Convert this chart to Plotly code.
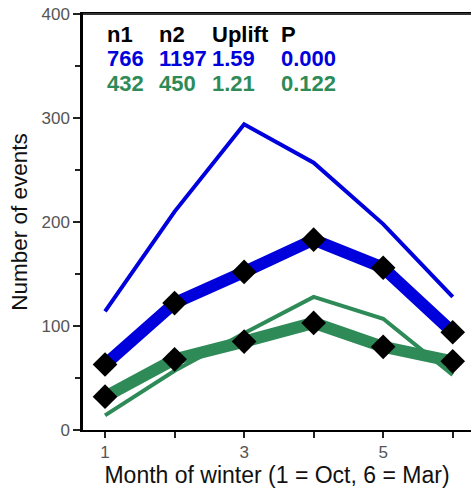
import plotly.graph_objects as go

months = [1, 2, 3, 4, 5, 6]
blue_thin = [114, 210, 294, 257, 198, 128]
blue_thick = [63, 122, 152, 183, 156, 94]
green_thin = [14, 57, 93, 128, 107, 53]
green_thick = [32, 68, 85, 103, 80, 66]

header = ["n1", "n2", "Uplift", "P"]
blue_stats = ["766", "1197", "1.59", "0.000"]
green_stats = ["432", "450", "1.21", "0.122"]

BLUE = "#0000DD"
GREEN = "#2E8B57"
FONT = "Liberation Sans, Arial, sans-serif"

fig = go.Figure()
fig.add_trace(go.Scatter(x=months, y=blue_thin, mode="lines",
                         line=dict(color=BLUE, width=4)))
fig.add_trace(go.Scatter(x=months, y=green_thin, mode="lines",
                         line=dict(color=GREEN, width=4)))
fig.add_trace(go.Scatter(x=months, y=blue_thick, mode="lines+markers",
                         line=dict(color=BLUE, width=12),
                         marker=dict(symbol="diamond", size=19, color="black")))
fig.add_trace(go.Scatter(x=months, y=green_thick, mode="lines+markers",
                         line=dict(color=GREEN, width=12),
                         marker=dict(symbol="diamond", size=19, color="black")))

col_x = [1.0, 1.748, 2.51, 3.50]
rows = [(header, "black", 380), (blue_stats, BLUE, 357), (green_stats, GREEN, 333)]
for texts, color, yv in rows:
    for t, xv in zip(texts, col_x):
        fig.add_annotation(x=xv, y=yv, xref="x", yref="y", text="<b>%s</b>" % t,
                           showarrow=False, xanchor="left", yanchor="middle",
                           font=dict(family=FONT, size=22, color=color))

# top frame line of the plot box
fig.add_shape(type="line", xref="paper", yref="paper", x0=0, x1=1, y0=1, y1=1,
              line=dict(color="#333", width=2), layer="above")

fig.update_layout(
    width=471, height=489,
    margin=dict(l=83, r=0, t=14, b=59),
    plot_bgcolor="white", paper_bgcolor="white",
    showlegend=False,
    font=dict(family=FONT, color="#444"),
)
fig.update_xaxes(
    automargin=False,
    range=[0.683, 6.263], tickvals=[1, 3, 5], ticktext=["1", "3", "5"],
    ticks="outside", ticklen=6, tickwidth=2, tickcolor="#222",
    minor=dict(tick0=1, dtick=1, ticks="outside", ticklen=6, tickwidth=2, tickcolor="#222", showgrid=False),
    showline=True, linecolor="black", linewidth=2, mirror=True,
    showgrid=False, zeroline=False,
    tickfont=dict(size=17, color="#555"),
    title=dict(text="Month of winter (1 = Oct, 6 = Mar)", font=dict(size=23, color="#111"), standoff=2),
)
fig.update_yaxes(
    automargin=False,
    range=[0, 400], tickvals=[0, 100, 200, 300, 400],
    ticks="outside", ticklen=7, tickwidth=2, tickcolor="#222",
    minor=dict(tick0=0, dtick=50, ticks="outside", ticklen=5, tickwidth=2, tickcolor="#222", showgrid=False),
    showline=True, linecolor="black", linewidth=2.5,
    showgrid=False, zeroline=False,
    tickfont=dict(size=17, color="#555"),
    title=dict(text="Number of events", font=dict(size=22.5, color="#111"), standoff=8),
)

# remove the browser's default 8px body margin so the figure fills the window
fig.write_html("out.html", config={"displayModeBar": False},
               post_script="document.body.style.margin='0';")
